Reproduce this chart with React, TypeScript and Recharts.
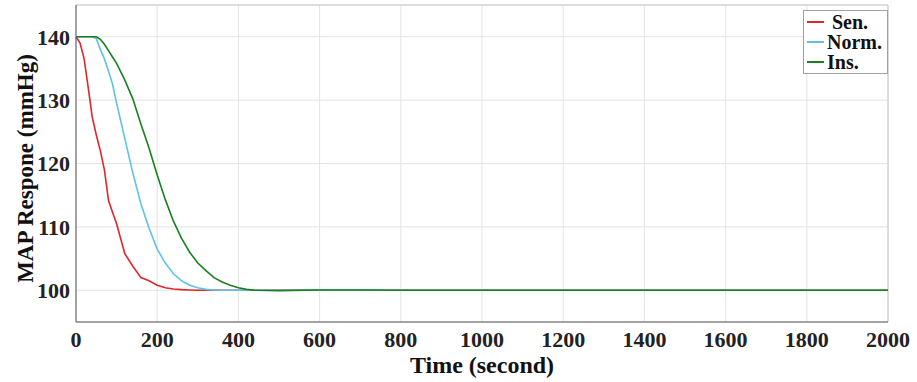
import React from 'react'
import {LineChart, Line, XAxis, YAxis, CartesianGrid, ReferenceLine} from 'recharts'

// time samples (s) shared by all three responses
const time = [0, 10, 20, 30, 40, 50, 60, 70, 80, 90, 100, 120, 140, 160, 180, 200, 220, 240, 260, 280, 300, 320, 340, 360, 380, 400, 420, 440, 500, 600, 700, 800, 1000, 1200, 1400, 1600, 1800, 2000]
const sen = [140, 139, 136.5, 132, 127.3, 124.5, 122, 119, 114.2, 112.3, 110.5, 105.8, 103.8, 102, 101.5, 100.8, 100.4, 100.2, 100.1, 100.05, 100, 100, 100, 100, 100, 100, 100, 100, 100, 100, 100, 100, 100, 100, 100, 100, 100, 100]
const norm = [140, 140, 140, 140, 140, 139.7, 138, 136.5, 134.6, 132.5, 129.5, 124, 118.5, 113.6, 109.8, 106.5, 104.3, 102.6, 101.5, 100.8, 100.4, 100.15, 100.05, 100, 100, 100, 100, 100, 100, 100, 100, 100, 100, 100, 100, 100, 100, 100]
const ins = [140, 140, 140, 140, 140, 140, 139.6, 138.8, 137.8, 136.8, 135.8, 133.2, 130.2, 126.2, 122.4, 118.2, 114.3, 110.9, 108.2, 106, 104.3, 103.1, 102, 101.3, 100.8, 100.4, 100.15, 100, 99.95, 100.05, 100.05, 100, 100, 100, 100, 100, 100, 100]

const xTicks = [0, 200, 400, 600, 800, 1000, 1200, 1400, 1600, 1800, 2000]
const yTicks = [100, 110, 120, 130, 140]

const series = [
  {key: 'sen', name: 'Sen.', color: '#e0262b'},
  {key: 'norm', name: 'Norm.', color: '#5ec3e6'},
  {key: 'ins', name: 'Ins.', color: '#17801f'},
]

const data = time.map((t, i) => ({t, sen: sen[i], norm: norm[i], ins: ins[i]}))

const font = '"Liberation Serif", "Times New Roman", serif'

// legend drawn as an overlay so it doesn't shrink the plot area
function LegendBox(){
  return (
    <div style={{position:'absolute', top:10, left:803, width:85, boxSizing:'border-box', border:'1px solid #a0a0a0', background:'#fff', padding:'1px 4px 1px 3px', fontFamily:font, fontWeight:700, fontSize:20, lineHeight:'20px', color:'#111'}}>
      {series.map(s => (
        <div key={s.key} style={{display:'flex', alignItems:'center'}}>
          <span style={{display:'inline-block', width:17, height:2, background:s.color, marginRight:s.key === 'sen' ? 8 : 3}} />
          <span>{s.name}</span>
        </div>
      ))}
    </div>
  )
}

export default function App(){
  return (
    <div style={{position:'absolute', left:0, top:0, width:917, height:382, background:'#fff'}}>
      <LineChart width={917} height={382} data={data} margin={{top:5, right:29, left:0, bottom:0}}>
        <CartesianGrid stroke="#e4e4e4" strokeWidth={1} />
        <ReferenceLine y={145} stroke="#c8c8c8" />
        <ReferenceLine x={2000} stroke="#c8c8c8" />
        <XAxis dataKey="t" type="number" domain={[0, 2000]} ticks={xTicks} height={60}
          axisLine={{stroke:'#555'}} tickLine={false} tickSize={0} tickMargin={9}
          tick={{fontFamily:font, fontWeight:700, fontSize:22, fill:'#222'}}
          label={{value:'Time (second)', position:'insideBottom', offset:9, style:{fontFamily:font, fontWeight:700, fontSize:24, fill:'#111'}}} />
        <YAxis type="number" domain={[95, 145]} ticks={yTicks} width={76}
          axisLine={{stroke:'#555'}} tickLine={false} tickSize={0} tickMargin={6}
          tick={{fontFamily:font, fontWeight:700, fontSize:22, fill:'#222'}}
          label={{value:'MAP Respone (mmHg)', angle:-90, position:'center', dx:-13, dy:5, style:{fontFamily:font, fontWeight:700, fontSize:23, fill:'#111', textAnchor:'middle'}}} />
        {series.map(s => (
          <Line key={s.key} dataKey={s.key} name={s.name} type="linear" stroke={s.color} strokeWidth={1.6}
            dot={false} activeDot={false} isAnimationActive={false} />
        ))}
      </LineChart>
      <LegendBox />
    </div>
  )
}
